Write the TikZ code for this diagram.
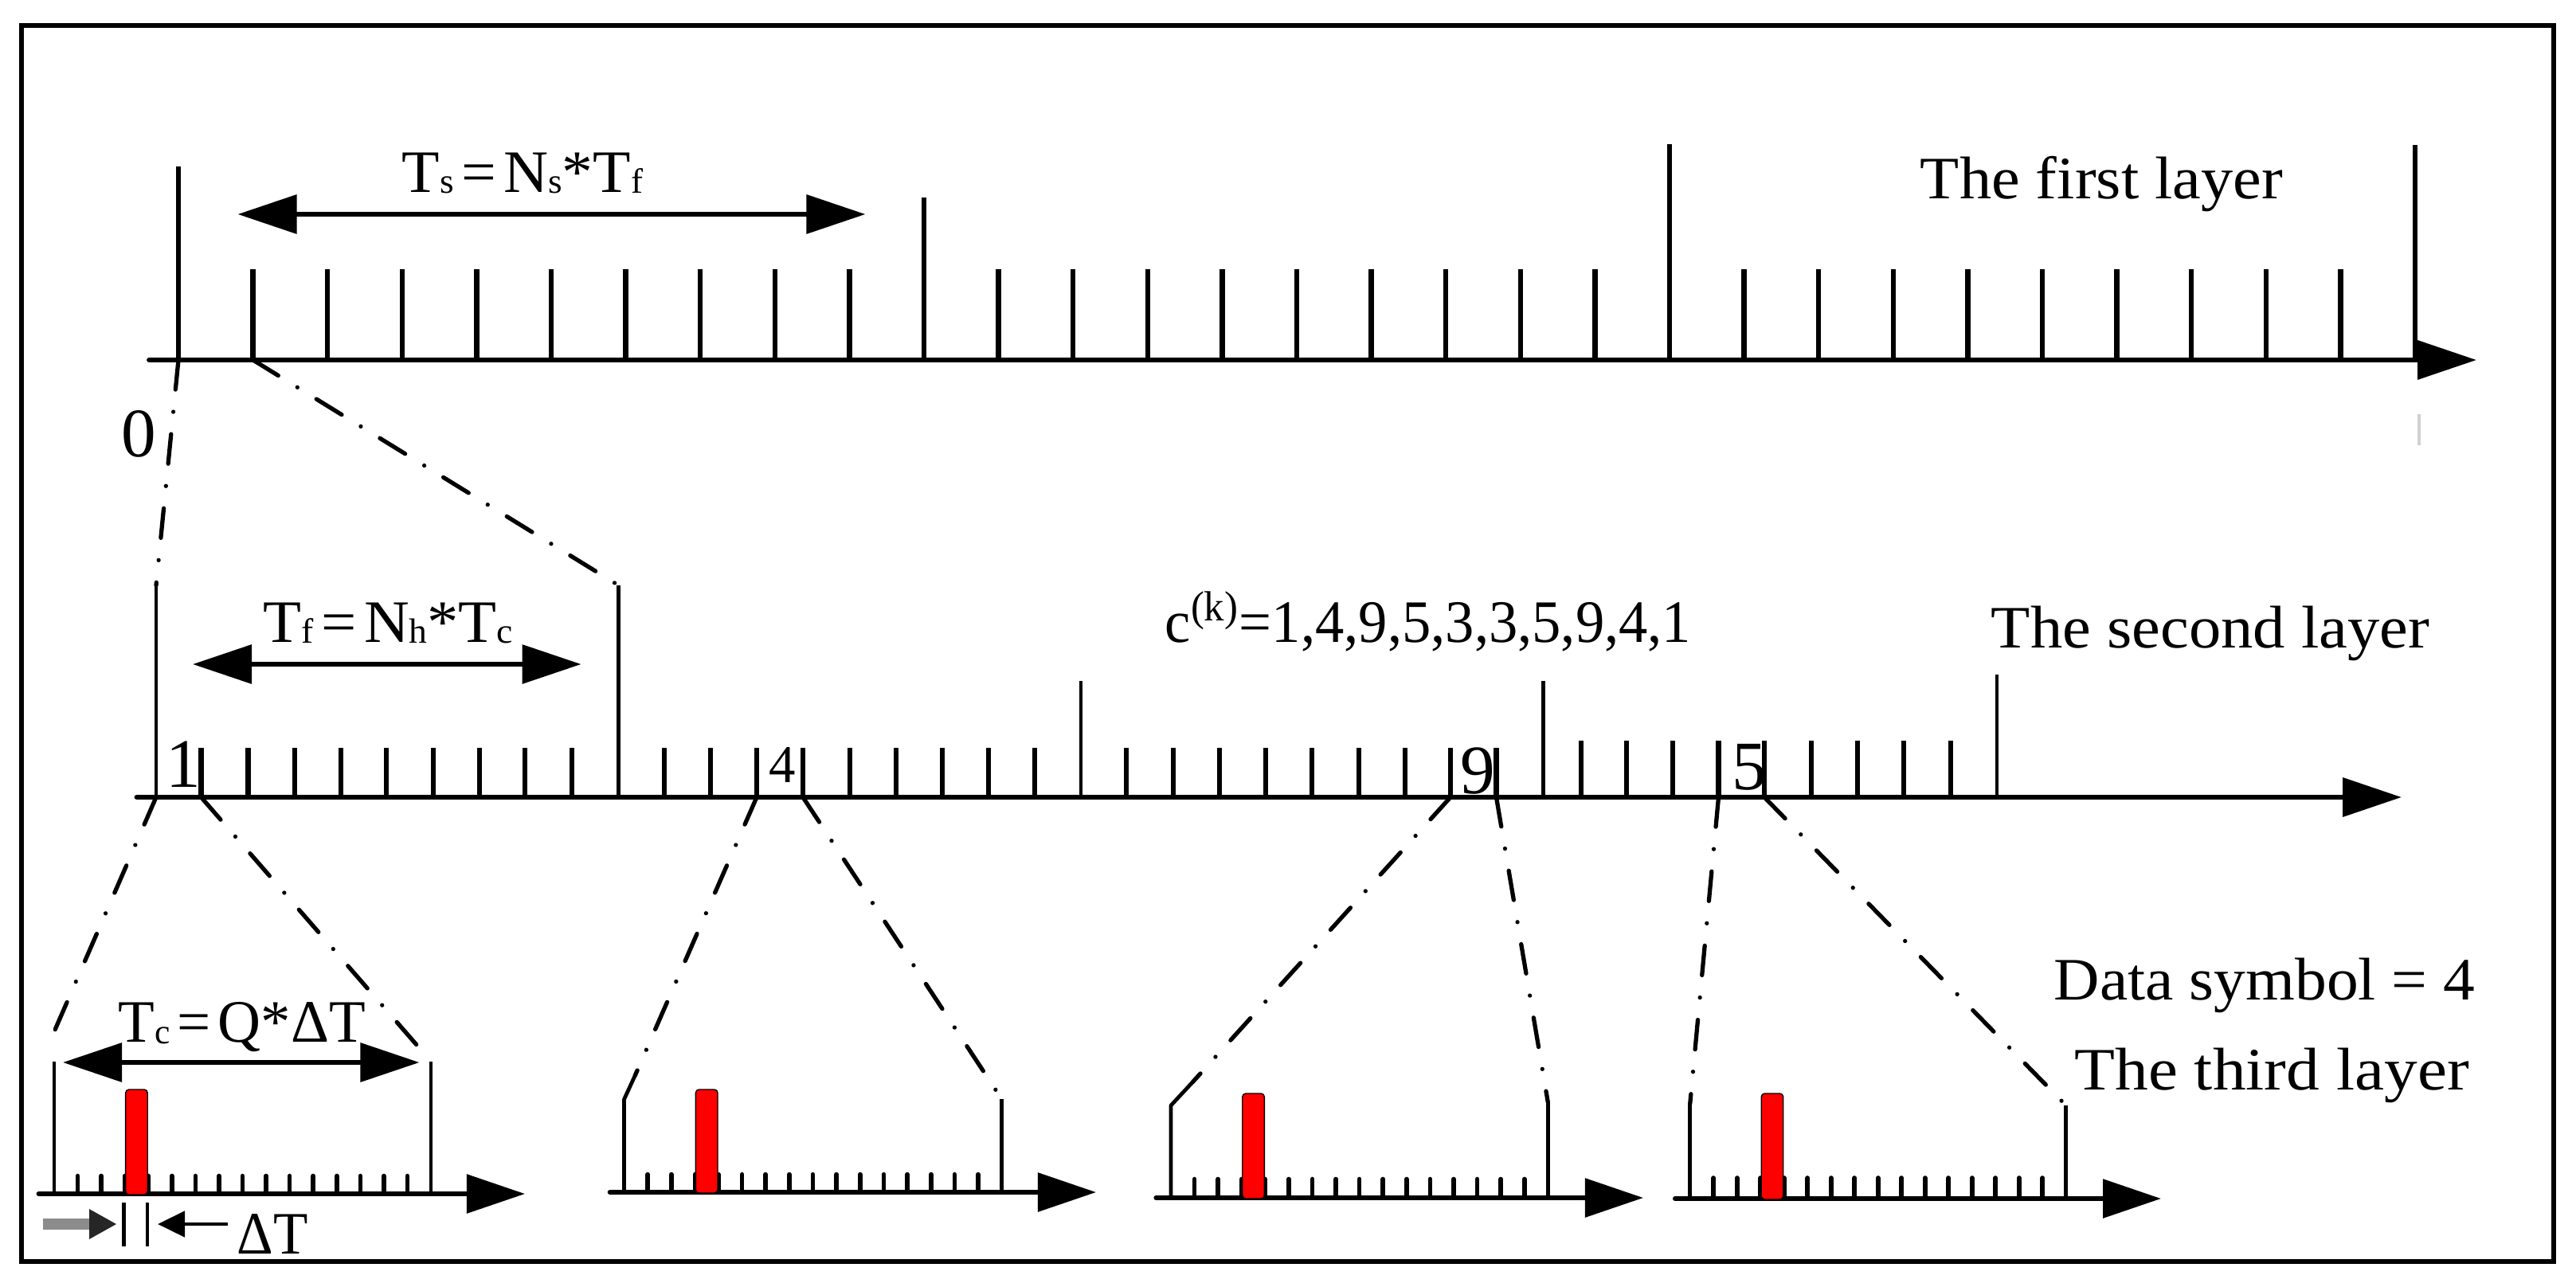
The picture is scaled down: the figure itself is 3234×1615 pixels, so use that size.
\documentclass[tikz,border=0pt]{standalone}
\usepackage{fontspec}
\usepackage{graphicx}
\setmainfont{Liberation Serif}
\usetikzlibrary{arrows.meta}
\newcommand\sbs[1]{\raisebox{-0.5pt}{\fontsize{12.5pt}{13pt}\selectfont #1}}
\newcommand\wtxt[2]{\resizebox{#1}{\height}{#2}}
\begin{document}
\begin{tikzpicture}[x=0.01cm,y=-0.01cm,
  frame/.style={line width=1.75pt},
  axisline/.style={line width=1.95pt, line cap=round, -{Triangle[length=0.74cm,width=0.48cm]}},
  axisthree/.style={line width=1.65pt, line cap=round, -{Triangle[length=0.73cm,width=0.48cm]}},
  dimarrow/.style={line width=1.8pt, {Triangle[length=0.74cm,width=0.48cm]}-{Triangle[length=0.74cm,width=0.48cm]}},
  tickA/.style={line width=1.85pt},
  tickB/.style={line width=1.75pt},
  tallB/.style={line width=1.25pt},
  tickC/.style={line width=1.6pt, line cap=round},
  tallC/.style={line width=1.35pt, line join=round},
  dashdot/.style={line width=1.5pt, line cap=round, dash pattern=on 10.6pt off 8pt on 0.01pt off 8pt},
  lbl/.style={inner sep=0pt, anchor=base, font=\fontsize{21.5pt}{25pt}\selectfont},
  digit/.style={inner sep=0pt, anchor=center, font=\fontsize{24.8pt}{29pt}\selectfont},
  redbar/.style={fill=red, rounded corners=1.2pt}
]
\useasboundingbox (0,0) rectangle (3234,1615);
\draw[frame] (27,32) rectangle (3206,1584);

% ---------------- first layer ----------------
\coordinate (L1s) at (187.5,452);
\coordinate (L1e) at (3109,452);
\draw[axisline] (L1s) -- (L1e);
\foreach \i in {1,...,29}{
  \ifnum\i=10\relax\else\ifnum\i=20\relax\else
  \draw[tickA] ({224+93.6*\i},452) -- ({224+93.6*\i},337.5);
  \fi\fi
}
\coordinate (A0) at (224,452);
\coordinate (A1) at (317.6,452);
\draw[tickA] (A0) -- (224,209);
\draw[tickA] (1160,452) -- (1160,247.5);
\draw[tickA] (2096,452) -- (2096,181);
\draw[tickA] (3032,452) -- (3032,182);
\draw[line width=1pt, black!18] (3037,520) -- (3037,559);
\node[digit] (zero) at (174,544.5) {0};
\coordinate (tsL) at (298.5,269);
\coordinate (tsR) at (1086.5,269);
\draw[dimarrow] (tsL) -- (tsR);
\node[lbl] (tslbl) at (656,241) {\wtxt{3.02cm}{T\sbs{s}\kern0.12em=\kern0.12em N\sbs{s}*T\sbs{f}}};
\node[lbl] (first) at (2638.5,249) {\wtxt{4.55cm}{The first layer}};

% ---------------- second layer ----------------
\coordinate (L2s) at (172,1001);
\coordinate (L2e) at (3015,1001);
\draw[axisline] (L2s) -- (L2e);
\foreach \x in {252.5,311.5,369.7,428,485.4,543.7,602,659.4,718.3,
                834,892,950,1008,1067,1125,1183,1241,1299,
                1414,1473,1531,1589,1647,1705.6,1764,1821,1878.5}{
  \draw[tickB] (\x,1001) -- (\x,938.5);
}
\foreach \x in {1985,2042,2100,2157.5,2215,2274,2332,2390,2448.6}{
  \draw[tickB] (\x,1001) -- (\x,930);
}
\coordinate (B0) at (196,735);
\coordinate (B1) at (776.6,735);
\draw[tallB] (196,1001) -- (B0);
\draw[tallB] (776.6,1001) -- (B1);
\draw[tallB] (1357,1001) -- (1357,855);
\draw[tallB] (1937.5,1001) -- (1937.5,855);
\draw[tallB] (2507,1001) -- (2507,847);
\draw[dashdot] (A0) -- (B0);
\draw[dashdot] (A1) -- (B1);
\coordinate (tfL) at (242,834);
\coordinate (tfR) at (729.6,834);
\draw[dimarrow] (tfL) -- (tfR);
\node[lbl] (tflbl) at (487.5,806) {\wtxt{3.13cm}{T\sbs{f}\kern0.12em=\kern0.12em N\sbs{h}*T\sbs{c}}};
\node[lbl] (code) at (1793,806) {\wtxt{6.6cm}{c\textsuperscript{(k)}=1,4,9,5,3,3,5,9,4,1}};
\node[lbl] (second) at (2775,813) {\wtxt{5.5cm}{The second layer}};
\node[digit] (d1) at (230,959.5) {1};
\node[digit, font=\fontsize{19pt}{23pt}\selectfont] (d4) at (982.5,960) {4};
\node[digit] (d9) at (1855.5,968) {9};
\node[digit] (d5) at (2196.5,963) {5};

% chip boundaries on the second layer
\coordinate (c1a) at (196,1001);   \coordinate (c1b) at (252.5,1001);
\coordinate (c4a) at (950,1001);   \coordinate (c4b) at (1008,1001);
\coordinate (c9a) at (1821,1001);  \coordinate (c9b) at (1878.5,1001);
\coordinate (c5a) at (2157.5,1001);\coordinate (c5b) at (2215,1001);

% ---------------- third layer ----------------
\foreach \L/\R/\ay/\as/\at/\st/\rt in {
   68/541/1499/48.5/659/1476.5/1368,
   783.5/1257.6/1497/765.6/1376/1474.6/1368,
   1470/1943.3/1504/1451.3/2063/1480.5/1373,
   2121.7/2593.7/1505/2102.9/2713/1479/1373}{
  \pgfmathsetmacro\d{(\R-\L)/16}
  \draw[axisthree] (\as,\ay) -- (\at,\ay);
  \foreach \k in {1,...,15}{
    \draw[tickC] ({\L+\k*\d},\ay) -- ({\L+\k*\d},\st);
  }
  \draw[redbar] ({\L+3*\d+1},\rt) rectangle ({\L+4*\d-1},\ay+1);
}
% tall ticks of the third-layer frames
\coordinate (f1l) at (68,1332.6);   \coordinate (f1r) at (541,1332.6);
\coordinate (f2l) at (797,1351);    \coordinate (f2r) at (1257.6,1380);
\coordinate (f3l) at (1497,1359);   \coordinate (f3r) at (1943.3,1384);
\coordinate (f4l) at (2121.7,1386); \coordinate (f4r) at (2593.7,1388);
\coordinate (f1lend) at (66,1300);
\draw[tallC] (68,1499) -- (f1l);
\draw[tallC] (541,1499) -- (f1r);
\draw[tallC] (783.5,1497) -- (783.5,1380.4) -- (f2l);
\draw[tallC] (1257.6,1497) -- (f2r);
\draw[tallC] (1470,1504) -- (1470,1388) -- (f3l);
\draw[tallC] (1943.3,1504) -- (f3r);
\draw[tallC] (2121.7,1505) -- (f4l);
\draw[tallC] (2593.7,1505) -- (f4r);

\draw[dashdot] (c1a) -- (f1lend);
\draw[dashdot] (c1b) -- (f1r);
\draw[dashdot] (c4a) -- (f2l);
\draw[dashdot] (c4b) -- (f2r);
\draw[dashdot] (c9a) -- (f3l);
\draw[dashdot] (c9b) -- (f3r);
\draw[dashdot] (c5a) -- (f4l);
\draw[dashdot] (c5b) -- (f4r);

\coordinate (tcL) at (79,1334);
\coordinate (tcR) at (526.5,1334);
\draw[dimarrow] (tcL) -- (tcR);
\node[lbl] (tclbl) at (304,1308.7) {\wtxt{3.1cm}{T\sbs{c}\kern0.12em=\kern0.12em Q*ΔT}};
\node[lbl] (dsym) at (2843,1255) {\wtxt{5.28cm}{Data symbol = 4}};
\node[lbl] (third) at (2852,1368.7) {\wtxt{4.95cm}{The third layer}};

% Delta T indicator
\draw[line width=1.4pt] (155.6,1510) -- (155.6,1565);
\draw[line width=1.4pt] (185,1510) -- (185,1565);
\coordinate (gA) at (54,1537);
\coordinate (gB) at (146,1537);
\draw[line width=4pt, black!45] (gA) -- (120,1537);
\fill[black!85] (112,1518) -- (gB) -- (112,1556) -- cycle;
\coordinate (dA) at (286,1537);
\coordinate (dB) at (198,1537);
\draw[line width=1.35pt, -{Triangle[length=0.34cm,width=0.32cm]}] (dA) -- (dB);
\node[lbl] (dT) at (342,1574.6) {\wtxt{0.89cm}{ΔT}};
\end{tikzpicture}
\end{document}
